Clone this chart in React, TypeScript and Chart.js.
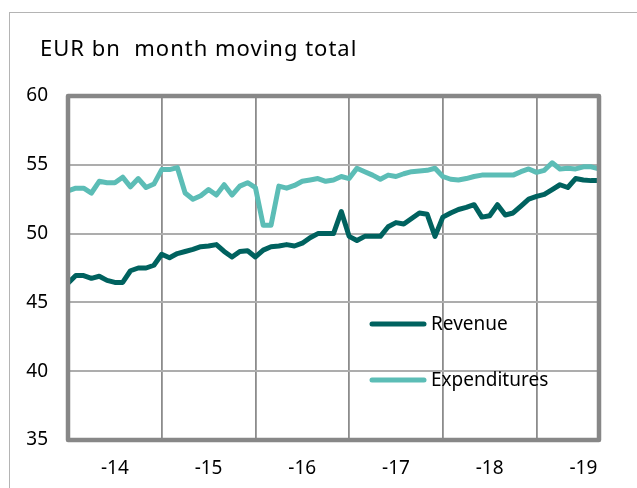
import { useEffect, useRef } from "react";
import { Chart, registerables } from "chart.js";

Chart.register(...registerables);

const TITLE = "EUR bn  month moving total";
const YEARS = ["2014", "2015", "2016", "2017", "2018", "2019"];
const YEAR_TICKS = ["-14", "-15", "-16", "-17", "-18", "-19"];
const MONTHS_IN_LAST_YEAR = 9;
const CATEGORIES: string[] = YEARS.flatMap((y, i) =>
  Array.from({ length: i === YEARS.length - 1 ? MONTHS_IN_LAST_YEAR : 12 }, (_, m) => `${y}-${String(m + 1).padStart(2, "0")}`)
);

const SERIES_NAMES = ["Revenue", "Expenditures"];
const SERIES_COLORS = ["#00625f", "#5cbdb6"];

const REVENUE = [
  46.4, 46.95, 46.95, 46.75, 46.9, 46.6, 46.45, 46.45, 47.3, 47.5, 47.5, 47.7,
  48.5, 48.25, 48.55, 48.7, 48.85, 49.05, 49.1, 49.2, 48.7, 48.3, 48.7, 48.75,
  48.3, 48.8, 49.05, 49.1, 49.2, 49.1, 49.3, 49.7, 50.0, 50.0, 50.0, 51.6,
  49.8, 49.5, 49.8, 49.8, 49.8, 50.5, 50.8, 50.7, 51.1, 51.5, 51.4, 49.8,
  51.2, 51.5, 51.75, 51.9, 52.1, 51.2, 51.3, 52.1, 51.35, 51.5, 52.0, 52.5,
  52.7, 52.85, 53.2, 53.55, 53.35, 54.0, 53.9, 53.85, 53.85,
];

const EXPENDITURES = [
  53.1, 53.3, 53.3, 52.95, 53.8, 53.7, 53.7, 54.1, 53.4, 54.0, 53.35, 53.6,
  54.65, 54.65, 54.8, 52.95, 52.5, 52.75, 53.2, 52.8, 53.55, 52.8, 53.45, 53.7,
  53.35, 50.6, 50.6, 53.45, 53.3, 53.5, 53.8, 53.9, 54.0, 53.8, 53.9, 54.15,
  54.0, 54.75, 54.5, 54.25, 53.95, 54.25, 54.15, 54.35, 54.5, 54.55, 54.6, 54.75,
  54.15, 53.95, 53.9, 54.0, 54.15, 54.25, 54.25, 54.25, 54.25, 54.25, 54.5, 54.7,
  54.45, 54.6, 55.15, 54.7, 54.75, 54.7, 54.85, 54.85, 54.7,
];

const Y_MIN = 35;
const Y_MAX = 60;
const Y_STEP = 5;

const FONT = "'Noto Sans', 'Open Sans', sans-serif";

const decorPlugin = {
  id: "decor",
  afterDatasetsDraw(chart: any) {
    const { ctx, chartArea: a } = chart;
    ctx.save();
    // plot frame
    ctx.strokeStyle = "#878787";
    ctx.lineWidth = 4.5;
    ctx.lineJoin = "round";
    ctx.strokeRect(a.left, a.top, a.right - a.left, a.bottom - a.top);

    // title
    ctx.fillStyle = "#000";
    ctx.font = `22px ${FONT}`;
    ctx.textBaseline = "middle";
    ctx.textAlign = "left";
    (ctx as any).letterSpacing = "1px";
    ctx.fillText(TITLE, 40, 50);
    (ctx as any).letterSpacing = "0px";

    // legend
    const legendY = [324, 380];
    chart.data.datasets.forEach((ds: any, i: number) => {
      const y = legendY[i];
      ctx.strokeStyle = ds.borderColor;
      ctx.lineWidth = 5;
      ctx.lineCap = "round";
      ctx.beginPath();
      ctx.moveTo(372, y);
      ctx.lineTo(424, y);
      ctx.stroke();
      ctx.fillStyle = "#000";
      ctx.font = `19px ${FONT}`;
      ctx.fillText(ds.label, 431, y + 1);
    });
    ctx.restore();
  },
};

export default function App() {
  const ref = useRef<HTMLCanvasElement | null>(null);

  useEffect(() => {
    if (!ref.current) return;
    Chart.defaults.font.family = FONT;
    const chart = new Chart(ref.current, {
      type: "line",
      data: {
        labels: CATEGORIES,
        datasets: [
          {
            label: SERIES_NAMES[0],
            data: REVENUE,
            borderColor: SERIES_COLORS[0],
            backgroundColor: SERIES_COLORS[0],
            borderWidth: 5,
            pointRadius: 0,
            tension: 0,
            borderJoinStyle: "round",
          },
          {
            label: SERIES_NAMES[1],
            data: EXPENDITURES,
            borderColor: SERIES_COLORS[1],
            backgroundColor: SERIES_COLORS[1],
            borderWidth: 5,
            pointRadius: 0,
            tension: 0,
            borderJoinStyle: "round",
          },
        ],
      },
      options: {
        responsive: false,
        animation: false,
        devicePixelRatio: 1,
        layout: { padding: { top: 96, right: 38, bottom: 0, left: 0 } },
        plugins: {
          legend: { display: false },
          title: { display: false },
          tooltip: { enabled: false },
        },
        scales: {
          x: {
            type: "category",
            offset: false,
            afterFit: (s: any) => {
              s.height = 48;
            },
            border: { display: false },
            grid: {
              drawTicks: false,
              lineWidth: 1.8,
              color: (c: any) => (c.index % 12 === 0 ? "#8c8c8c" : "rgba(0,0,0,0)"),
            },
            ticks: {
              autoSkip: false,
              maxRotation: 0,
              minRotation: 0,
              padding: 17,
              color: "#000",
              font: { size: 19 },
              callback: (_v: any, i: number) => (i % 12 === 6 ? YEAR_TICKS[Math.floor(i / 12)] : ""),
            },
          },
          y: {
            min: Y_MIN,
            max: Y_MAX,
            afterFit: (s: any) => {
              s.width = 68;
            },
            border: { display: false },
            grid: { drawTicks: false, lineWidth: 2, color: "#adadad" },
            ticks: { stepSize: Y_STEP, padding: 20, color: "#000", font: { size: 19 } },
          },
        },
      },
      plugins: [decorPlugin],
    });
    return () => chart.destroy();
  }, []);

  return (
    <div style={{ position: "fixed", left: 0, top: 0, width: 637, height: 488, background: "#fff", overflow: "hidden" }}>
      <div
        style={{
          position: "absolute",
          left: 9,
          top: 12,
          width: 700,
          height: 600,
          borderLeft: "1.5px solid #b4b4b4",
          borderTop: "1.5px solid #b4b4b4",
        }}
      />
      <canvas ref={ref} width={637} height={488} style={{ position: "absolute", left: 0, top: 0 }} />
    </div>
  );
}
